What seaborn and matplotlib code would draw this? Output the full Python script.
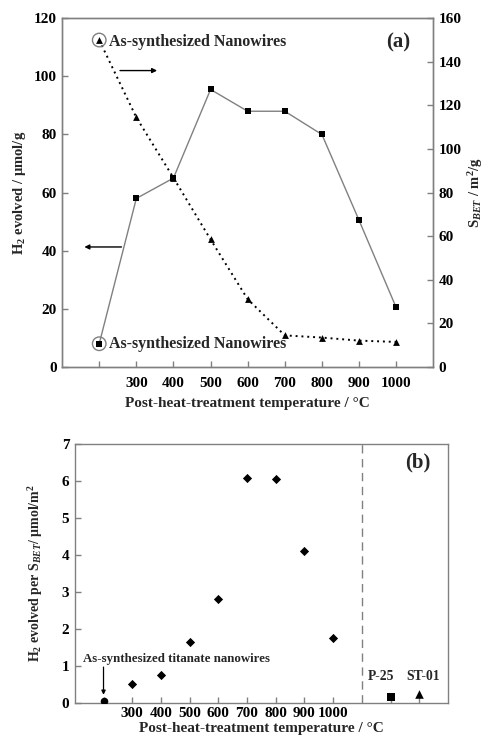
import numpy as np
import pandas as pd
import matplotlib
matplotlib.use("Agg")
import matplotlib.pyplot as plt
import seaborn as sns

# ---- data ----
temps = [200, 300, 400, 500, 600, 700, 800, 900, 1000]
h2_evolved = [8.0, 58.0, 65.0, 95.5, 88.0, 88.0, 80.0, 50.5, 20.5]          # umol/g
s_bet = [150.0, 114.5, 86.8, 58.5, 31.1, 14.5, 13.5, 12.1, 11.5]            # m2/g
h2_per_sbet = [0.05, 0.50, 0.75, 1.65, 2.82, 6.08, 6.06, 4.12, 1.75]        # umol/m2
ref_names = ["P-25", "ST-01"]
ref_x = [1200, 1300]
ref_vals = [0.17, 0.23]
temp_ticks = [300, 400, 500, 600, 700, 800, 900, 1000]

sns.set_theme(style="ticks")
plt.rcParams["font.family"] = ["Liberation Serif", "DejaVu Serif"]
plt.rcParams["font.weight"] = "bold"
plt.rcParams["axes.labelweight"] = "bold"
plt.rcParams["mathtext.fontset"] = "custom"
plt.rcParams["mathtext.rm"] = "Liberation Serif:bold"
plt.rcParams["mathtext.it"] = "Liberation Serif:italic:bold"
plt.rcParams["mathtext.bf"] = "Liberation Serif:bold"
plt.rcParams["mathtext.default"] = "rm"

GRAY = "#808080"
plt.rcParams["axes.edgecolor"] = GRAY
plt.rcParams["axes.linewidth"] = 1.0
plt.rcParams["xtick.color"] = GRAY
plt.rcParams["ytick.color"] = GRAY
plt.rcParams["xtick.labelcolor"] = "black"
plt.rcParams["ytick.labelcolor"] = "black"

fig = plt.figure(figsize=(4.89, 7.42), dpi=100)

df = pd.DataFrame({"T": temps, "H2": h2_evolved, "S": s_bet, "R": h2_per_sbet})

# ---------- panel (a) ----------
ax1 = fig.add_axes([0.127, 0.5054, 0.759, 0.470])
ax2 = ax1.twinx()

sns.lineplot(data=df, x="T", y="H2", ax=ax1, color=GRAY, lw=1.0)
sns.scatterplot(data=df, x="T", y="H2", ax=ax1, marker="s", color="black",
                s=20, edgecolor="black", linewidth=0, zorder=5)
sns.lineplot(data=df, x="T", y="S", ax=ax2, color="black", lw=1.4,
             linestyle=(0, (1, 2.0)))
sns.scatterplot(data=df, x="T", y="S", ax=ax2, marker="^", color="black",
                s=24, edgecolor="black", linewidth=0, zorder=5)

# rings around the as-synthesized samples
ax1.scatter([temps[0]], [h2_evolved[0]], s=95, facecolors="none",
            edgecolors=GRAY, linewidths=1.0, zorder=6)
ax2.scatter([temps[0]], [s_bet[0]], s=95, facecolors="none",
            edgecolors=GRAY, linewidths=1.0, zorder=6)

ax1.set_xlim(100, 1100)
ax1.set_ylim(0, 120)
ax2.set_ylim(0, 160)
ax1.set_xticks([200] + temp_ticks)
ax1.set_xticklabels([""] + [str(t) for t in temp_ticks])
ax1.set_yticks(np.arange(0, 121, 20))
ax2.set_yticks(np.arange(0, 161, 20))
for a in (ax1, ax2):
    a.tick_params(direction="in", length=4, width=1, labelsize=11, pad=4)
ax1.tick_params(axis="x", pad=7)

ax1.set_xlabel("Post-heat-treatment temperature / °C", fontsize=11, labelpad=5)
ax1.set_ylabel("H$_2$ evolved / μmol/g", fontsize=10.5, labelpad=4)
ax2.set_ylabel("S$_{\\mathit{BET}}$ / m$^2$/g", fontsize=10.5, labelpad=3)

ax1.text(226, 112, "As-synthesized Nanowires", fontsize=11.5, va="center", ha="left")
ax1.text(226, 7.9, "As-synthesized Nanowires", fontsize=11.5, va="center", ha="left")
ax1.text(1006, 111.5, "(a)", fontsize=15, va="center", ha="center")

ax1.annotate("", xy=(356, 102), xytext=(256, 102),
             arrowprops=dict(arrowstyle="-|>", color="black", lw=1.0,
                             mutation_scale=7, shrinkA=0, shrinkB=0))
ax1.annotate("", xy=(160, 41.3), xytext=(260, 41.3),
             arrowprops=dict(arrowstyle="-|>", color="black", lw=1.0,
                             mutation_scale=7, shrinkA=0, shrinkB=0))

# ---------- panel (b) ----------
ax3 = fig.add_axes([0.153, 0.0526, 0.763, 0.349])
sns.scatterplot(data=df.iloc[1:], x="T", y="R", ax=ax3, marker="D",
                color="black", s=22, edgecolor="black", linewidth=0, zorder=5)
sns.scatterplot(x=[temps[0]], y=[h2_per_sbet[0]], ax=ax3, marker="o",
                color="black", s=30, edgecolor="black", linewidth=0, zorder=5)
sns.scatterplot(x=[ref_x[0]], y=[ref_vals[0]], ax=ax3, marker="s",
                color="black", s=34, edgecolor="black", linewidth=0, zorder=5)
sns.scatterplot(x=[ref_x[1]], y=[ref_vals[1]], ax=ax3, marker="^",
                color="black", s=38, edgecolor="black", linewidth=0, zorder=5)

ax3.axvline(1100, color=GRAY, lw=1.0, linestyle=(0, (6, 4)))

ax3.set_xlim(100, 1400)
ax3.set_ylim(0, 7)
ax3.set_xticks([200] + temp_ticks + ref_x)
ax3.set_xticklabels([""] + [str(t) for t in temp_ticks] + ["", ""])
ax3.set_yticks(np.arange(0, 8, 1))
ax3.tick_params(direction="in", length=4, width=1, labelsize=11, pad=4)
ax3.tick_params(axis="x", pad=3)

ax3.set_xlabel("Post-heat-treatment temperature / °C", fontsize=11, labelpad=1)
ax3.set_ylabel("H$_2$ evolved per S$_{\\mathit{BET}}$/ μmol/m$^2$", fontsize=10, labelpad=12)

ax3.text(455, 1.19, "As-synthesized titanate nanowires", fontsize=9.3,
         ha="center", va="center")
ax3.annotate("", xy=(200, 0.22), xytext=(200, 0.97),
             arrowprops=dict(arrowstyle="-|>", color="black", lw=0.9,
                             mutation_scale=6, shrinkA=0, shrinkB=0))
# sample names above the reference catalysts, nudged apart horizontally
for name, x, dx in zip(ref_names, ref_x, [-7, 3]):
    ax3.annotate(name, xy=(x, 0.72), xytext=(dx, 0), textcoords="offset points",
                 fontsize=9.8, ha="center", va="center")
ax3.text(1295, 6.49, "(b)", fontsize=15, ha="center", va="center")

fig.savefig("out.png", dpi=100)
